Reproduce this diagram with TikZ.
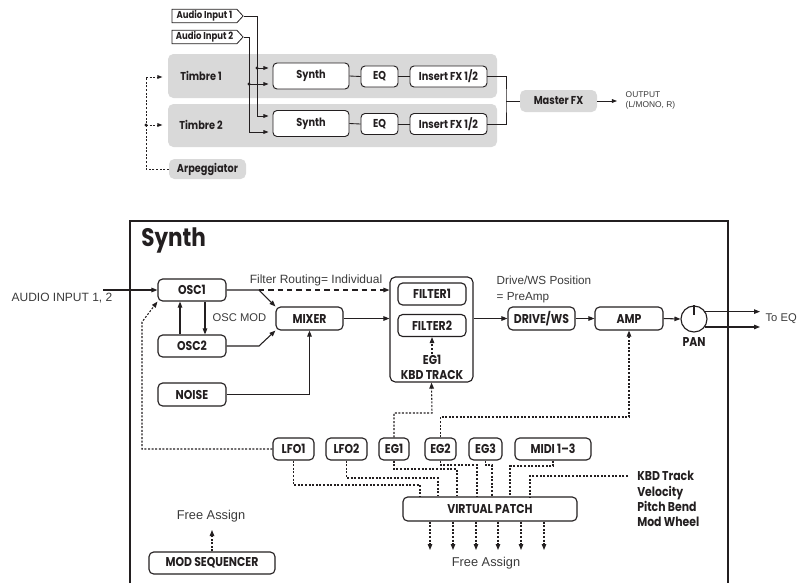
\documentclass[tikz,border=0pt]{standalone}
\usepackage{fontspec}
\setmainfont{Liberation Sans}
\newfontfamily\labfont[FakeStretch=0.85]{Poppins}
\usetikzlibrary{arrows.meta,shapes.symbols,calc}
\definecolor{ink}{HTML}{231F20}
\definecolor{boxgray}{HTML}{D9D9D9}
\definecolor{txtgray}{HTML}{3A3A3A}
\begin{document}
\begin{tikzpicture}[x=0.75pt,y=-0.75pt,
  bbox/.style={draw=ink, line width=0.85pt, rounded corners=3.5pt, fill=white, inner sep=0pt,
     minimum height=16.5pt, font=\labfont\bfseries\fontsize{9.6}{11}\selectfont, text=ink},
  tb/.style={draw=ink, line width=0.7pt, rounded corners=3pt, fill=white, inner sep=0pt,
     font=\labfont\bfseries\fontsize{8.6}{10}\selectfont, text=ink},
  gb/.style={fill=boxgray, rounded corners=4pt, inner sep=0pt},
  glab/.style={font=\labfont\bfseries\fontsize{8.6}{10}\selectfont, text=ink},
  lab/.style={font=\labfont\bfseries\fontsize{9.6}{11.4}\selectfont, text=ink},
  reg/.style={font=\fontsize{9}{12}\selectfont, text=txtgray},
  sig/.style={signal, signal to=east, signal pointer angle=95, draw=ink, line width=0.6pt, fill=white,
     minimum width=53.25pt, minimum height=9.75pt, inner sep=1pt,
     font=\labfont\bfseries\fontsize{7.5}{8.5}\selectfont, text=ink},
  wire/.style={draw=ink, line width=0.8pt},
  twire/.style={draw=ink, line width=0.65pt},
  arr/.style={-{Triangle[length=4.5pt,width=3.4pt]}},
  sarr/.style={-{Triangle[length=3.8pt,width=2.8pt]}},
  dots/.style={dash pattern=on 1.5pt off 1.2pt}]
\useasboundingbox (0,0) rectangle (798,583);

% ---------------- top diagram ----------------
\node[gb, minimum width=246.75pt, minimum height=33pt] (t1) at (332.5,76) {};
\node[gb, minimum width=246.75pt, minimum height=32.25pt] (t2) at (332.5,125.5) {};
\node[glab] (t1l) at (201,76) {Timbre 1};
\node[glab] (t2l) at (201,125) {Timbre 2};
\node[gb, minimum width=57.75pt, minimum height=15pt, glab] (arp) at (207.5,169) {Arpeggiator};

\node[sig] (ai1) at (204.5,16) {Audio Input 1};
\node[sig] (ai2) at (204.5,37) {Audio Input 2};

\node[tb, minimum width=57pt, minimum height=19.5pt] (s1) at (311,76) {Synth};
\node[tb, minimum width=57pt, minimum height=19.5pt] (s2) at (311,123.5) {Synth};
\node[tb, minimum width=27.75pt, minimum height=15.75pt] (eq1) at (379.5,76.5) {EQ};
\node[tb, minimum width=27.75pt, minimum height=15.75pt] (eq2) at (379.5,124) {EQ};
\node[tb, minimum width=57.75pt, minimum height=15.75pt] (fx1) at (448.5,76.5) {Insert FX 1/2};
\node[tb, minimum width=57.75pt, minimum height=15.75pt] (fx2) at (448.5,124) {Insert FX 1/2};
\node[gb, minimum width=57.75pt, minimum height=16.5pt, glab] (master) at (558.5,101) {Master FX};
\node[anchor=west, align=left, font=\fontsize{6.3}{7.5}\selectfont, text=txtgray] (outt) at (621,100) {OUTPUT\\(L/MONO, R)};

\coordinate (v1) at (257,116);
\coordinate (j1) at (257,68);
\coordinate (v2) at (249,132);
\coordinate (j2) at (249,84);
\draw[twire] (ai1.east) -| (v1);
\draw[twire] (ai2.east) -| (v2);
\draw[twire,sarr,shorten >=3pt] (v1) -- (v1 -| s2.west);
\draw[twire,sarr,shorten >=3pt] (v2) -- (v2 -| s2.west);
\draw[twire,sarr,shorten >=3pt] (j1) -- (j1 -| s1.west);
\draw[twire,sarr,shorten >=3pt] (j2) -- (j2 -| s1.west);
\fill[ink] (j1) circle (1.3pt);
\fill[ink] (j2) circle (1.3pt);

\draw[twire] (s1.east) -- (eq1.west);
\draw[twire] (eq1.east) -- (fx1.west);
\draw[twire] (s2.east) -- (eq2.west);
\draw[twire] (eq2.east) -- (fx2.west);
\coordinate (jn) at (506,101);
\draw[twire] (fx1.east) -| (jn) |- (fx2.east);
\draw[twire] (jn) -- (master.west);
\coordinate (outc) at (617,101);
\draw[twire,sarr] (master.east) -- (outc);

\coordinate (a1) at (146,77);
\coordinate (a2) at (146,125);
\draw[twire,dots] (arp.west) -| (a1);
\draw[twire,dots,sarr,shorten >=4pt] (a1) -- (a1 -| t1.west);
\draw[twire,dots,sarr,shorten >=4pt] (a2) -- (a2 -| t2.west);
\fill[ink] (a2) circle (1.3pt);

% ---------------- Synth block ----------------
\draw[ink, line width=0.85pt] (130,583) -- (130,221) -- (728,221) -- (728,583);
\node[anchor=west, inner sep=0pt, font=\labfont\bfseries\fontsize{19}{22}\selectfont, text=ink] (title) at (141,240) {Synth};

\node[bbox, minimum width=51pt] (osc1) at (192,290) {OSC1};
\node[bbox, minimum width=51pt] (osc2) at (192,346) {OSC2};
\node[bbox, minimum width=51pt, minimum height=17.25pt] (noise) at (192,394.5) {NOISE};
\node[bbox, minimum width=50.25pt, minimum height=17.25pt] (mixer) at (309.5,318.5) {MIXER};
\node[draw=ink, line width=0.85pt, rounded corners=4pt, minimum width=62.25pt, minimum height=78.75pt, inner sep=0pt] (filt) at (431.5,329.5) {};
\node[bbox, minimum width=51pt] (f1) at (432,294) {FILTER1};
\node[bbox, minimum width=51pt] (f2) at (432,325.5) {FILTER2};
\node[lab, align=center, inner sep=1pt] (egk) at (432,367.5) {EG1\\KBD TRACK};
\node[bbox, minimum width=50.25pt, minimum height=17.25pt] (drive) at (541.5,318.5) {DRIVE/WS};
\node[bbox, minimum width=51pt, minimum height=17.25pt] (amp) at (629,318.5) {AMP};
\node[circle, draw=ink, line width=0.85pt, minimum size=19.5pt, inner sep=0pt, fill=white] (pan) at (694,319) {};
\node[lab] (panl) at (694,342) {PAN};

\node[reg] (ain) at (62,298) {AUDIO INPUT 1, 2};
\node[reg] (frt) at (316,280) {Filter Routing= Individual};
\node[reg, anchor=west, font=\fontsize{8.4}{10}\selectfont] (oscmod) at (208,318) {OSC MOD};
\node[reg, anchor=west, align=left, font=\fontsize{8.8}{12}\selectfont] (dwp) at (492,289) {Drive/WS Position\\= PreAmp};
\node[reg, anchor=east, inner sep=0pt, font=\fontsize{8.4}{10}\selectfont] (toeq) at (797,319) {To EQ};

\coordinate (ains) at (103,290);
\draw[wire,arr] (ains) -- (osc1.west);
\draw[wire,arr] ($(osc2.north)+(-12,0)$) -- ($(osc1.south)+(-12,0)$);
\draw[wire,arr] ($(osc1.south)+(13,0)$) -- ($(osc2.north)+(13,0)$);
\coordinate (b1) at (259,290);
\coordinate (b2) at (259,346);
\draw[wire,arr] (osc1.east) -- (b1) -- (mixer.north west);
\draw[wire,arr] (osc2.east) -- (b2) -- (mixer.south west);
\draw[wire,arr] (noise.east) -| (mixer.south);
\draw[wire,arr,dash pattern=on 4pt off 3pt] (b1) -- (b1 -| filt.west);
\draw[wire,arr] (mixer.east) -- (mixer.east -| filt.west);
\draw[wire,arr] (filt.east |- drive.west) -- (drive.west);
\draw[wire,arr] (drive.east) -- (amp.west);
\draw[wire,arr] (amp.east) -- (pan.west);
\draw[wire] (pan.north) -- ($(pan.center)+(0,-4)$);
\coordinate (eqx) at (760,319);
\draw[wire,arr] (pan.33) -- (pan.33 -| eqx);
\draw[wire,arr] (pan.-36) -- (pan.-36 -| eqx);
\draw[wire,dots,arr] (egk.north) -- (f2.south);

% ---------------- modulation ----------------
\node[bbox, minimum width=30.75pt] (lfo1) at (293.5,449) {LFO1};
\node[bbox, minimum width=30.75pt] (lfo2) at (346.5,449) {LFO2};
\node[bbox, minimum width=22.5pt] (eg1) at (394,449) {EG1};
\node[bbox, minimum width=23.25pt] (eg2) at (440.5,449) {EG2};
\node[bbox, minimum width=24.75pt] (eg3) at (485.5,449) {EG3};
\node[bbox, minimum width=57pt] (midi) at (553,449) {MIDI 1–3};
\node[bbox, minimum width=130.5pt, minimum height=18pt] (vp) at (490,509) {VIRTUAL PATCH};
\node[bbox, minimum width=94.5pt] (mseq) at (212,563) {MOD SEQUENCER};
\node[lab, anchor=west, align=left, inner sep=0pt, font=\labfont\bfseries\fontsize{9.6}{11.5}\selectfont] (kbd) at (637,499) {KBD Track\\Velocity\\Pitch Bend\\Mod Wheel};
\node[reg, font=\fontsize{9.6}{12}\selectfont] (fa1) at (211,516) {Free Assign};
\node[reg, font=\fontsize{9.6}{12}\selectfont] (fa2) at (486,563) {Free Assign};

\coordinate (l1) at (142,322);
\draw[wire,dots,arr] (lfo1.west) -| (l1) -- (osc1.south west);
\coordinate (e1) at (432,413);
\draw[wire,dots,arr] (eg1.north) |- (e1) -- (filt.south);
\coordinate (e2) at (629,417);
\draw[wire,dots,arr] (eg2.north) |- (e2) -- (amp.south);

\coordinate (p1) at (420,485);
\coordinate (p2) at (438,478);
\coordinate (p3) at (457,469);
\coordinate (p4) at (477,465);
\coordinate (p5) at (492,465);
\coordinate (p6) at (510,466);
\draw[wire,dots] (lfo1.south) |- (p1) -- (p1 |- vp.north);
\draw[wire,dots] (lfo2.south) |- (p2) -- (p2 |- vp.north);
\draw[wire,dots] (eg1.south) |- (p3) -- (p3 |- vp.north);
\draw[wire,dots] (eg2.south) |- (p4) -- (p4 |- vp.north);
\draw[wire,dots] (eg3.south) |- (p5) -- (p5 |- vp.north);
\draw[wire,dots] (midi.south) |- (p6) -- (p6 |- vp.north);
\coordinate (k0) at (628,476);
\coordinate (p7) at (530,497);
\draw[wire,dots] (k0) -| (p7);

\foreach \i/\x in {1/430,2/453,3/476,4/498,5/521,6/544}{
  \coordinate (d\i) at (\x,550);
  \draw[wire,dots,arr] (d\i |- vp.south) -- (d\i);
}
\coordinate (fa1c) at (212,530);
\draw[wire,dots,arr] (mseq.north) -- (fa1c);
\end{tikzpicture}
\end{document}
